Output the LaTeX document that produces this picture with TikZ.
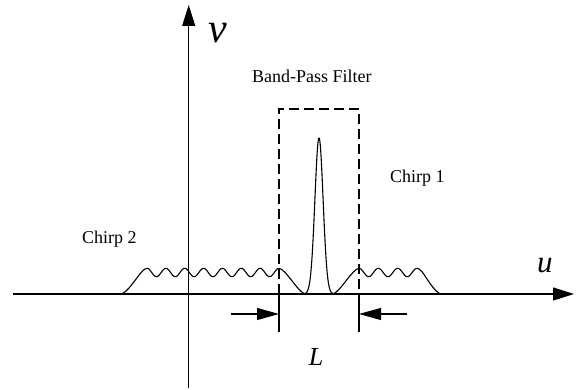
\documentclass[tikz,border=0pt]{standalone}
\usepackage{fontspec}
\setmainfont{Liberation Serif}
\usetikzlibrary{arrows.meta}
\tikzset{
  curve/.style={line width=1.1pt, line join=round},
  axis/.style={line width=1.1pt, -{Triangle[length=21pt,width=13pt]}},
  dimarrow/.style={line width=1.1pt, -{Triangle[length=22pt,width=12pt]}},
  filterbox/.style={line width=1.1pt, dash pattern=on 10pt off 5pt},
  lbl/.style={inner sep=0pt, font=\fontsize{18}{20}\selectfont},
}
\begin{document}
\begin{tikzpicture}[x=1pt,y=-1pt]
\useasboundingbox (0,0) rectangle (578,390);
% axes
\coordinate (uL) at (13,294);
\coordinate (uR) at (574,294);
\coordinate (vB) at (188.7,388);
\coordinate (vT) at (188.7,5);
\draw[axis] (uL) -- (uR);
\draw[axis] (vB) -- (vT);
\node[inner sep=0pt, anchor=base west, font=\fontsize{31}{33}\selectfont\itshape] (ulab) at (537,272) {u};
\node[inner sep=0pt, anchor=base west, font=\fontsize{42}{44}\selectfont\itshape] (vlab) at (208,42.7) {v};
% band-pass filter box
\coordinate (bl) at (279,294);
\coordinate (br) at (359,294);
\coordinate (tl) at (279,109);
\coordinate (tr) at (359,109);
\coordinate (dl) at (279,332);
\coordinate (dr) at (359,332);
\draw[filterbox] (bl) -- (tl) -- (tr) -- (br);
\draw[line width=1.1pt] (bl) -- (dl);
\draw[line width=1.1pt] (br) -- (dr);
% dimension arrows
\coordinate (al) at (231,314);
\coordinate (ar) at (407,314);
\draw[dimarrow] (al) -- (279,314);
\draw[dimarrow] (ar) -- (359,314);
\node[inner sep=0pt, anchor=base, font=\fontsize{26}{28}\selectfont\itshape] (Llab) at (316,365) {L};
% labels
\node[lbl, anchor=base west] (bpf) at (252,83) {Band-Pass Filter};
\node[lbl, anchor=base west] (c1) at (390,183) {Chirp 1};
\node[lbl, anchor=base west] (c2) at (82,243) {Chirp 2};
% chirp 2
\draw[curve] (121.7,294) .. controls (131,290) and (141,268.3) .. (147,268.3)
  -- plot[domain=147:279, samples=220] (\x, {272.5-4.2*cos(deg(2*pi*(\x-147)/18.857))})
  .. controls (285,268.3) and (298,292) .. (305,294);
% central peak
\draw[curve] plot[domain=305:333, samples=120] (\x, {294-156*exp(-((\x-319)/5.8)^2)});
% chirp 1
\draw[curve] (333,294) .. controls (340,292) and (353,268.3) .. (359,268.3)
  -- plot[domain=359:417, samples=120] (\x, {272.5-4.2*cos(deg(2*pi*(\x-359)/19.333))})
  .. controls (423,268.3) and (430,288) .. (440,294);
\end{tikzpicture}
\end{document}
